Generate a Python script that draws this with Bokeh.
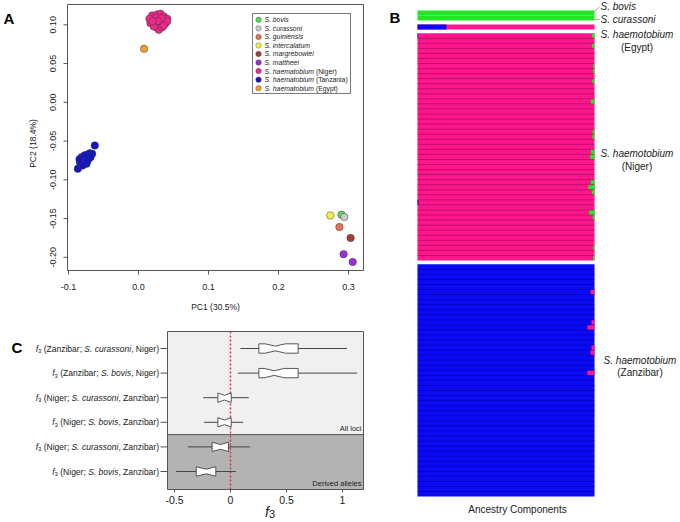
import math
from collections import defaultdict
from bokeh.plotting import figure
from bokeh.models import Range1d, ColumnDataSource
from bokeh.embed import file_html
from bokeh.resources import INLINE
from bokeh.core.properties import value

FONT = "Liberation Sans"
INK = "#222222"
GREY = "#555555"

# ---------------- Panel A data (PCA) ----------------
pc1_label = "PC1 (30.5%)"
pc2_label = "PC2 (18.4%)"
pc1_ticks = [-0.1, 0.0, 0.1, 0.2, 0.3]
pc1_tick_labels = ["-0.1", "0.0", "0.1", "0.2", "0.3"]
pc2_ticks = [-0.20, -0.15, -0.10, -0.05, 0.00, 0.05, 0.10]
pc2_tick_labels = ["-0.20", "-0.15", "-0.10", "-0.05", "0.00", "0.05", "0.10"]
A_xlim = (-0.1014, 0.3214)
A_ylim = (-0.2170, 0.1262)

legend_names = ["S. bovis", "S. curassoni", "S. guiniensis", "S. intercalatum",
                "S. margrebowiei", "S. mattheei", "S. haematobium (Niger)",
                "S. haematobium (Tanzania)", "S. haematobium (Egypt)"]
legend_colors = ["#4ddc4d", "#c8c8c8", "#e8705a", "#f4ef4a", "#a83a3a",
                 "#9b30d9", "#f0288c", "#1515c8", "#f0a030"]

bovis_pc1 = [0.290]
bovis_pc2 = [-0.145]
curassoni_pc1 = [0.294]
curassoni_pc2 = [-0.148]
guiniensis_pc1 = [0.287]
guiniensis_pc2 = [-0.161]
intercalatum_pc1 = [0.274]
intercalatum_pc2 = [-0.146]
margrebowiei_pc1 = [0.303]
margrebowiei_pc2 = [-0.175]
mattheei_pc1 = [0.293, 0.306]
mattheei_pc2 = [-0.196, -0.206]
niger_pc1 = [0.0195, 0.0267, 0.0314, 0.0362, 0.0410, 0.0219, 0.0290, 0.0352, 0.0171, 0.0243,
             0.0314, 0.0386, 0.0267, 0.0290, 0.0219, 0.0338, 0.0410, 0.0157, 0.0250, 0.0330,
             0.0280, 0.0360, 0.0200]
niger_pc2 = [0.1120, 0.1133, 0.1142, 0.1108, 0.1077, 0.1065, 0.1077, 0.1047, 0.1021, 0.1013,
             0.1004, 0.1021, 0.0961, 0.0935, 0.0978, 0.0970, 0.1047, 0.1077, 0.1090, 0.1085,
             0.1050, 0.0990, 0.1045]
tanzania_pc1 = [-0.0867, -0.0624, -0.0814, -0.0805, -0.0757, -0.0724, -0.0696, -0.0662, -0.0743,
                -0.0781, -0.0838, -0.0829, -0.0710, -0.0686, -0.0790, -0.0843, -0.0767, -0.0733,
                -0.0800]
tanzania_pc2 = [-0.0858, -0.0557, -0.0708, -0.0751, -0.0742, -0.0674, -0.0657, -0.0665, -0.0794,
                -0.0786, -0.0760, -0.0794, -0.0729, -0.0708, -0.0716, -0.0735, -0.0683, -0.0765,
                -0.0815]
egypt_pc1 = [0.008]
egypt_pc2 = [0.069]

# ---------------- Panel B data (ancestry) ----------------
anc_colors = ["#0a0af5", "#ff168c", "#22e622"]   # blue, pink, green components
bovis_green = [1.0]
curassoni_green = [1.0]
egypt_blue = [0.164]
niger_green = [0.015, 0, 0.015, 0, 0, 0, 0.008, 0.008, 0, 0.012,
               0, 0, 0, 0.020, 0, 0, 0, 0, 0, 0.010,
               0.012, 0, 0, 0.020, 0.025, 0, 0, 0, 0, 0.020,
               0.035, 0.015, 0, 0, 0, 0.030, 0.010, 0, 0, 0,
               0, 0, 0.008, 0, 0.008]
niger_blue = [0.004] + [0] * 32 + [0.006] + [0] * 11
zanzibar_pink = [0, 0, 0, 0, 0, 0.022, 0, 0, 0, 0,
                 0, 0.017, 0.040, 0, 0, 0, 0.017, 0.022, 0, 0,
                 0, 0.040, 0, 0, 0, 0, 0, 0, 0, 0,
                 0, 0, 0, 0, 0, 0, 0, 0, 0, 0,
                 0, 0, 0, 0, 0, 0]
anc_xlabel = "Ancestry Components"

# ---------------- Panel C data (f3 tests) ----------------
f3_tests = ["(Zanzibar; S. curassoni, Niger)", "(Zanzibar; S. bovis, Niger)",
            "(Niger; S. curassoni, Zanzibar)", "(Niger; S. bovis, Zanzibar)",
            "(Niger; S. curassoni, Zanzibar)", "(Niger; S. bovis, Zanzibar)"]
f3_whisk_lo = [0.089, 0.065, -0.244, -0.238, -0.381, -0.485]
f3_q1 = [0.253, 0.253, -0.113, -0.113, -0.164, -0.306]
f3_median = [0.400, 0.390, -0.054, -0.054, -0.089, -0.217]
f3_q3 = [0.604, 0.604, 0.006, 0.006, -0.018, -0.131]
f3_whisk_hi = [1.040, 1.130, 0.164, 0.113, 0.173, 0.047]
f3_notch = [0.090, 0.090, 0.060, 0.060, 0.075, 0.085]
f3_ticks = [-0.5, 0, 0.5, 1]
f3_tick_labels = ["-0.5", "0", "0.5", "1"]
f3_sets = ["All loci", "Derived alleles"]
C_xlim = (-0.5625, 1.1875)

# ---------------- text helpers ----------------
W = {' ': 278, '(': 333, ')': 333, ',': 278, '.': 278, ';': 278, '%': 889, '-': 333,
     'A': 667, 'B': 667, 'C': 722, 'D': 722, 'E': 667, 'F': 611, 'G': 778, 'H': 722, 'I': 278,
     'J': 500, 'K': 667, 'L': 556, 'M': 833, 'N': 722, 'O': 778, 'P': 667, 'Q': 778, 'R': 722,
     'S': 667, 'T': 611, 'U': 722, 'V': 667, 'W': 944, 'X': 667, 'Y': 667, 'Z': 611,
     'a': 556, 'b': 556, 'c': 500, 'd': 556, 'e': 556, 'f': 278, 'g': 556, 'h': 556, 'i': 222,
     'j': 222, 'k': 500, 'l': 222, 'm': 833, 'n': 556, 'o': 556, 'p': 556, 'q': 556, 'r': 333,
     's': 500, 't': 278, 'u': 556, 'v': 500, 'w': 722, 'x': 500, 'y': 500, 'z': 500}


def tw(s, size):
    return sum(W.get(c, 556) for c in s) / 1000.0 * size


def run_layout(parts):
    out, x = [], 0.0
    for t, style, size, dy in parts:
        lead = len(t) - len(t.lstrip(" "))
        x += tw(" " * lead, size)
        core = t.strip(" ")
        if core:
            out.append((core, style, size, dy, x))
        x += tw(core, size)
        trail = len(t) - len(t.rstrip(" "))
        x += tw(" " * trail, size)
    return out, x


def split_species(s):
    i = s.find("S. ")
    if i < 0:
        return s, "", ""
    j = i + 3
    while j < len(s) and s[j].isalpha():
        j += 1
    return s[:i], s[i:j], s[j:]


def add_text(p, items, xr="default", yr="default"):
    groups = defaultdict(list)
    for it in items:
        key = (it["style"], it["size"], it.get("align", "left"), it.get("baseline", "middle"),
               it.get("angle", 0.0), it.get("color", INK))
        groups[key].append(it)
    for (style, size, align, baseline, angle, color), its in groups.items():
        src = ColumnDataSource(dict(x=[i["x"] for i in its], y=[i["y"] for i in its],
                                    text=[i["text"] for i in its],
                                    dx=[i.get("dx", 0) for i in its],
                                    dy=[i.get("dy", 0) for i in its]))
        p.text(x="x", y="y", text="text", x_offset="dx", y_offset="dy", source=src,
               text_font=value(FONT), text_font_size=f"{size}px", text_font_style=style,
               text_align=align, text_baseline=baseline, text_color=color, angle=angle,
               x_range_name=xr, y_range_name=yr)


# ---------------- one canvas, one coordinate system per panel ----------------
WIDTH, HEIGHT = 678, 520
PXA, PYA = 700.0, 775.0      # px per data unit, panel A  (x=-0.1 at 68px, y=0.10 at 24.3px)
PXC, PYC = 112.0, 24.6       # panel C (x=0 at 230px, row 1 at 471px)
PXB, PYB = 177.0, 5.05       # panel B (share 0 at 417px, first row top at 10px)

p = figure(width=WIDTH, height=HEIGHT, x_range=Range1d(0, WIDTH), y_range=Range1d(HEIGHT, 0),
           output_backend="svg", toolbar_location=None, min_border=0, min_border_left=0,
           min_border_right=0, min_border_top=0, min_border_bottom=0)
p.axis.visible = False
p.grid.visible = False
p.outline_line_color = None
p.background_fill_color = "white"
p.border_fill_color = "white"
p.extra_x_ranges = {
    "xA": Range1d(-0.1 - 68 / PXA, -0.1 + (WIDTH - 68) / PXA),
    "xC": Range1d(-230 / PXC, (WIDTH - 230) / PXC),
    "xB": Range1d(-417 / PXB, (WIDTH - 417) / PXB),
}
p.extra_y_ranges = {
    "yA": Range1d(0.10 - (HEIGHT - 24.3) / PYA, 0.10 + 24.3 / PYA),
    "yC": Range1d(1 - (HEIGHT - 471) / PYC, 1 + 471 / PYC),
    "yB": Range1d((HEIGHT - 10) / PYB, -10 / PYB),
}
RA = dict(x_range_name="xA", y_range_name="yA")
RC = dict(x_range_name="xC", y_range_name="yC")
RB = dict(x_range_name="xB", y_range_name="yB")

# panel letters (pixel space)
add_text(p, [dict(x=3, y=18, text="A", style="bold", size=15, baseline="alphabetic", color="black"),
             dict(x=389, y=17, text="B", style="bold", size=15, baseline="alphabetic", color="black"),
             dict(x=11, y=347, text="C", style="bold", size=15, baseline="alphabetic", color="black")])

# ================= Panel A =================
p.quad(left=[A_xlim[0]], right=[A_xlim[1]], top=[A_ylim[1]], bottom=[A_ylim[0]],
       fill_color="white", line_color=GREY, line_width=1, **RA)
pca_groups = [(bovis_pc1, bovis_pc2), (curassoni_pc1, curassoni_pc2),
              (guiniensis_pc1, guiniensis_pc2), (intercalatum_pc1, intercalatum_pc2),
              (margrebowiei_pc1, margrebowiei_pc2), (mattheei_pc1, mattheei_pc2),
              (niger_pc1, niger_pc2), (tanzania_pc1, tanzania_pc2), (egypt_pc1, egypt_pc2)]
for (xs, ys), col in zip(pca_groups, legend_colors):
    p.scatter(xs, ys, size=7.5, fill_color=col, line_color="#3a3a3a", line_width=0.6,
              line_alpha=0.8, **RA)
# axes of A
nx, ny = len(pc1_ticks), len(pc2_ticks)
p.segment(x0=pc1_ticks, x1=pc1_ticks, y0=[A_ylim[0]] * nx, y1=[A_ylim[0] - 4 / PYA] * nx,
          line_color=GREY, line_width=1, **RA)
p.segment(x0=[A_xlim[0]] * ny, x1=[A_xlim[0] - 4 / PXA] * ny, y0=pc2_ticks, y1=pc2_ticks,
          line_color=GREY, line_width=1, **RA)
items = []
for t, l in zip(pc1_ticks, pc1_tick_labels):
    items.append(dict(x=t, y=A_ylim[0], text=l, style="normal", size=9, dy=16.5, align="center"))
for t, l in zip(pc2_ticks, pc2_tick_labels):
    items.append(dict(x=A_xlim[0], y=t, text=l, style="normal", size=9, dx=-15, align="center",
                      angle=math.pi / 2))
items.append(dict(x=sum(A_xlim) / 2, y=A_ylim[0], text=pc1_label, style="normal", size=8.5,
                  dy=37, align="center"))
items.append(dict(x=A_xlim[0], y=sum(A_ylim) / 2, text=pc2_label, style="normal", size=8.5,
                  dx=-35, dy=6, align="center", angle=math.pi / 2))
add_text(p, items, "xA", "yA")

# legend of A
leg_left, leg_right, leg_top, leg_bottom = 0.1629, 0.3029, 0.1146, 0.0114
p.quad(left=[leg_left], right=[leg_right], top=[leg_top], bottom=[leg_bottom],
       fill_color="white", line_color=GREY, line_width=0.8, **RA)
leg_y = [leg_top - (6.3 + 8.55 * i) / PYA for i in range(len(legend_names))]
p.scatter([leg_left + 6.0 / PXA] * len(legend_names), leg_y, size=5.5,
          fill_color=legend_colors, line_color="#3a3a3a", line_width=0.5, line_alpha=0.7, **RA)
items = []
for name, y in zip(legend_names, leg_y):
    pre, sp, post = split_species(name)
    laid, _ = run_layout([(sp, "italic", 6.8, 0), (post, "normal", 6.8, 0)])
    for core, st, sz, dy, x in laid:
        items.append(dict(x=leg_left, y=y, text=core, style=st, size=sz, dx=12 + x, dy=dy))
add_text(p, items, "xA", "yA")

# ================= Panel C =================
n = len(f3_tests)
rows_y = [n - i for i in range(n)]
c_top = n + 17 / PYC
c_bot = 1 - 18 / PYC
split_y = 2.5
p.quad(left=[C_xlim[0], C_xlim[0]], right=[C_xlim[1], C_xlim[1]], top=[c_top, split_y],
       bottom=[split_y, c_bot], fill_color=["#f0f0f0", "#b3b3b3"], line_color=None, **RC)
p.quad(left=[C_xlim[0]], right=[C_xlim[1]], top=[c_top], bottom=[c_bot], fill_color=None,
       line_color=GREY, line_width=1, **RC)
p.segment(x0=[C_xlim[0]], x1=[C_xlim[1]], y0=[split_y], y1=[split_y], line_color=GREY,
          line_width=1, **RC)
p.segment(x0=[0], x1=[0], y0=[c_bot], y1=[c_top], line_color="#d42a2a", line_width=1.3,
          line_dash="2 2", **RC)
p.segment(x0=f3_whisk_lo, x1=f3_q1, y0=rows_y, y1=rows_y, line_color="#444444", line_width=1,
          **RC)
p.segment(x0=f3_q3, x1=f3_whisk_hi, y0=rows_y, y1=rows_y, line_color="#444444", line_width=1,
          **RC)
hh = 0.19
bx, by = [], []
for y, q1, md, q3, nt in zip(rows_y, f3_q1, f3_median, f3_q3, f3_notch):
    lo = max(q1, md - nt)
    hi = min(q3, md + nt)
    bx.append([q1, lo, md, hi, q3, q3, hi, md, lo, q1])
    by.append([y - hh, y - hh, y - hh / 2, y - hh, y - hh, y + hh, y + hh, y + hh / 2, y + hh,
               y + hh])
p.patches(bx, by, fill_color="white", line_color="#444444", line_width=0.9, **RC)
# axes of C
nt_ = len(f3_ticks)
p.segment(x0=[C_xlim[0]] * n, x1=[C_xlim[0] - 7 / PXC] * n, y0=rows_y, y1=rows_y,
          line_color=GREY, line_width=1, **RC)
p.segment(x0=f3_ticks, x1=f3_ticks, y0=[c_bot] * nt_, y1=[c_bot - 3 / PYC] * nt_,
          line_color=GREY, line_width=1, **RC)
items = []
for t, l in zip(f3_ticks, f3_tick_labels):
    items.append(dict(x=t, y=c_bot, text=l, style="normal", size=10.5, dy=10, align="center"))
fx = (C_xlim[0] + C_xlim[1]) / 2
items.append(dict(x=fx, y=c_bot, text="f", style="italic", size=14, dx=3.5, dy=22.5,
                  align="right", baseline="alphabetic"))
items.append(dict(x=fx, y=c_bot, text="3", style="normal", size=11, dx=3.5, dy=24.5,
                  align="left", baseline="alphabetic"))
for y, t in zip(rows_y, f3_tests):
    pre, sp, post = split_species(t)
    parts = [("f", "italic", 8.5, 0), ("3", "normal", 6.0, 2.5), (" " + pre, "normal", 8.5, 0),
             (sp, "italic", 8.5, 0), (post, "normal", 8.5, 0)]
    laid, total = run_layout(parts)
    start = -8.5 - total
    for core, st, sz, dy, x in laid:
        items.append(dict(x=C_xlim[0], y=y, text=core, style=st, size=sz, dx=start + x, dy=dy))
items.append(dict(x=C_xlim[1], y=split_y, text=f3_sets[0], style="normal", size=7.5, dx=-2,
                  dy=-2, align="right", baseline="bottom"))
items.append(dict(x=C_xlim[1], y=c_bot, text=f3_sets[1], style="normal", size=7.5, dx=-2,
                  dy=-2, align="right", baseline="bottom"))
add_text(p, items, "xC", "yC")

# ================= Panel B =================
groups_B = [
    ("bovis", [[0.0, 0.0, g] for g in bovis_green], 0.0, 2),
    ("curassoni", [[0.0, 0.0, g] for g in curassoni_green], 0.0, 2),
    ("Egypt", [[b, 1 - b, 0.0] for b in egypt_blue], 0.75, 1),
    ("Niger", [[b, 1 - b - g, g] for b, g in zip(niger_blue, niger_green)], 0.75, 1),
    ("Zanzibar", [[1 - pk, pk, 0.0] for pk in zanzibar_pink], 0.75, 0),
]
base_l, base_r, base_t, base_b, base_c = [], [], [], [], []
ql, qr, qt, qb, qc = [], [], [], [], []
sep_x0, sep_x1, sep_y, sep_c = [], [], [], []
cursor = 0.0
group_pos = {}
for name, fracs, gap, main in groups_B:
    cursor += gap
    start = cursor
    base_l.append(0.0); base_r.append(1.0); base_t.append(start); base_b.append(start + len(fracs))
    base_c.append(anc_colors[main])
    for k, fr in enumerate(fracs):
        left = 0.0
        for comp, f in enumerate(fr):
            if f > 0 and comp != main:
                ql.append(left); qr.append(left + f)
                qt.append(cursor); qb.append(cursor + 1)
                qc.append(anc_colors[comp])
            left += f
        if k > 0 and name in ("Niger", "Zanzibar"):
            sep_x0.append(0.0); sep_x1.append(1.0); sep_y.append(cursor)
            sep_c.append("#8a0a4c" if name == "Niger" else "#0000a0")
        cursor += 1
    group_pos[name] = (start, cursor)
p.quad(left=base_l, right=base_r, top=base_t, bottom=base_b, fill_color=base_c, line_color=None,
       **RB)
p.quad(left=ql, right=qr, top=qt, bottom=qb, fill_color=qc, line_color=None, **RB)
p.segment(x0=sep_x0, x1=sep_x1, y0=sep_y, y1=sep_y, line_color=sep_c, line_width=0.7,
          line_alpha=0.8, **RB)

items = []
cb = sum(group_pos["bovis"]) / 2
cc = sum(group_pos["curassoni"]) / 2
items.append(dict(x=1.0, y=cb, text="S. bovis", style="italic", size=10, dx=6, dy=-6.5))
items.append(dict(x=1.0, y=cc, text="S. curassoni", style="italic", size=10, dx=6, dy=1.4))
for name, d1, d2, dx in (("Egypt", 7.6, 20.6, 42.5), ("Niger", 6.6, 19.6, 42.5),
                         ("Zanzibar", -20, -8, 45.5)):
    c = sum(group_pos[name]) / 2
    items.append(dict(x=1.0, y=c, text="S. haemotobium", style="italic", size=10, dx=dx,
                      dy=d1, align="center"))
    items.append(dict(x=1.0, y=c, text="(" + name + ")", style="normal", size=10, dx=dx,
                      dy=d2, align="center"))
items.append(dict(x=0.5, y=group_pos["Zanzibar"][1], text=anc_xlabel, style="normal", size=10,
                  dx=11.5, dy=13, align="center"))
add_text(p, items, "xB", "yB")
p.segment(x0=[1.0, 1.0], x1=[1.0 + 5 / PXB, 1.0 + 5 / PXB], y0=[cb - 0.3, cc + 0.3],
          y1=[cb - 6.0 / PYB, cc + 1.4 / PYB], line_color="#777777", line_width=0.7, **RB)

open("out.html", "w").write(file_html(p, INLINE))
